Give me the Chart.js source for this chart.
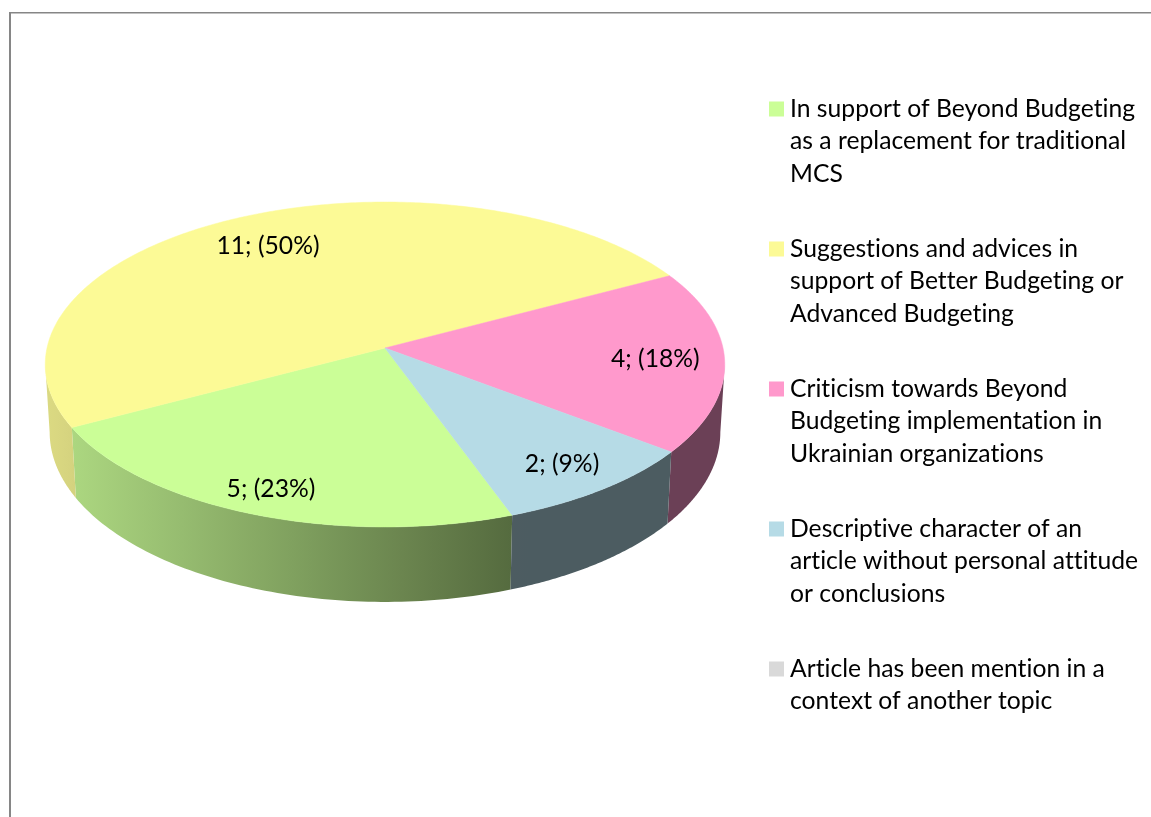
<!DOCTYPE html>
<html>
<head>
<meta charset="utf-8">
<style>html,body{margin:0;padding:0;background:#fff;overflow:hidden}canvas{display:block}</style>
<script src="https://cdn.jsdelivr.net/npm/chart.js@4"></script>
</head>
<body>
<canvas id="c" width="1151" height="817"></canvas>
<script>
const categories = [
  ["In support of Beyond Budgeting", "as a replacement for traditional", "MCS"],
  ["Suggestions and advices in", "support of Better Budgeting or", "Advanced Budgeting"],
  ["Criticism towards Beyond", "Budgeting implementation in", "Ukrainian organizations"],
  ["Descriptive character of an", "article without personal attitude", "or conclusions"],
  ["Article has been mention in a", "context of another topic"]
];
const values = [5, 11, 4, 2, 0];
const colors = ["#CBFE97", "#FCFA96", "#FF99CC", "#B6DBE6", "#D9D9D9"];
const labelRadii = [0.857, 0.78, 0.8, 0.83, 0];
const FONT = "Lato";
const FS = 24.7;

const total = values.reduce((a, b) => a + b, 0);
function rgb(hex, f) {
  const n = parseInt(hex.slice(1), 16);
  return `rgb(${Math.round((n >> 16) * f)},${Math.round(((n >> 8) & 255) * f)},${Math.round((n & 255) * f)})`;
}
function shade(x) { // wall brightness by horizontal position
  const t = Math.min(1, Math.max(0, (x - 46) / 465));
  return 0.87 - 0.45 * t;
}

const pie3d = {
  id: "pie3d",
  afterLayout(chart) {
    const a = { left: 47, top: 10, right: 723, bottom: 686, width: 676, height: 676 };
    Object.assign(chart.chartArea, a);
    const lg = chart.legend;
    lg.left = 732.85; lg.right = 1151; lg.top = 54.15; lg.bottom = 1000; lg.width = 418.15; lg.height = 945.85;
  },
  beforeDraw(chart) {
    const ctx = chart.ctx;
    ctx.letterSpacing = "0.01px";
    ctx.save();
    ctx.fillStyle = "#fff";
    ctx.fillRect(0, 0, chart.width, chart.height);
    ctx.fillStyle = "#868686";
    ctx.fillRect(9, 12, 2, chart.height);
    ctx.fillRect(9, 12, chart.width, 1.5);
    ctx.restore();
  },
  beforeDatasetsDraw(chart) {
    const ctx = chart.ctx;
    const arcs = chart.getDatasetMeta(0).data;
    const first = arcs[0];
    const cx = first.x, cy = first.y, r = first.outerRadius;
    const k = 0.1015, by = 0.4757;
    const P = t => {
      const d = 1 - k * Math.sin(t);
      return [cx + r * Math.cos(t) / d, cy + r * by * Math.sin(t) / d];
    };
    const Q = t => {
      const [x, y] = P(t);
      const Y = y - cy;
      return [cx + (x - cx) * 0.987, y + r * 0.198 + 0.045 * Y];
    };
    const sil0 = Math.asin(k), sil1 = Math.PI - sil0;
    ctx.save();
    // side walls
    arcs.forEach((arc, i) => {
      if (arc.endAngle - arc.startAngle < 1e-6) return;
      for (const off of [0, -2 * Math.PI, 2 * Math.PI]) {
        const s = Math.max(arc.startAngle + off, sil0);
        const e = Math.min(arc.endAngle + off, sil1);
        if (e <= s) continue;
        const n = 80;
        ctx.beginPath();
        for (let j = 0; j <= n; j++) {
          const p = P(s + (e - s) * j / n);
          j ? ctx.lineTo(p[0], p[1]) : ctx.moveTo(p[0], p[1]);
        }
        for (let j = n; j >= 0; j--) {
          const q = Q(s + (e - s) * j / n);
          ctx.lineTo(q[0], q[1]);
        }
        ctx.closePath();
        const x0 = Math.min(P(s)[0], P(e)[0], Q(s)[0], Q(e)[0]);
        const x1 = Math.max(P(s)[0], P(e)[0], Q(s)[0], Q(e)[0]);
        const g = ctx.createLinearGradient(x0, 0, x1, 0);
        for (let j = 0; j <= 8; j++) {
          g.addColorStop(j / 8, rgb(colors[i], shade(x0 + (x1 - x0) * j / 8)));
        }
        ctx.fillStyle = g;
        ctx.fill();
      }
    });
    // top faces
    arcs.forEach((arc, i) => {
      const s = arc.startAngle, e = arc.endAngle;
      if (e - s < 1e-6) return;
      const n = 240;
      ctx.beginPath();
      ctx.moveTo(cx, cy);
      for (let j = 0; j <= n; j++) {
        const p = P(s + (e - s) * j / n);
        ctx.lineTo(p[0], p[1]);
      }
      ctx.closePath();
      ctx.fillStyle = colors[i];
      ctx.strokeStyle = colors[i];
      ctx.lineWidth = 0.5;
      ctx.fill();
      ctx.stroke();
    });
    // data labels
    ctx.fillStyle = "#000";
    ctx.font = `${FS}px ${FONT}`;
    ctx.textAlign = "center";
    ctx.textBaseline = "middle";
    arcs.forEach((arc, i) => {
      if (!values[i]) return;
      const mid = (arc.startAngle + arc.endAngle) / 2;
      const f = labelRadii[i];
      const sx = f * Math.cos(mid), sy = f * Math.sin(mid);
      const d = 1 - k * sy;
      const pct = Math.round(values[i] / total * 100);
      ctx.fillText(`${values[i]}; (${pct}%)`, cx + r * sx / d - 1, cy + r * by * sy / d + 1);
    });
    ctx.restore();
    return false;
  }
};

new Chart(document.getElementById("c"), {
  type: "pie",
  plugins: [pie3d],
  data: {
    labels: categories,
    datasets: [{ data: values, backgroundColor: colors, borderWidth: 0 }]
  },
  options: {
    responsive: false,
    animation: false,
    rotation: 160.1,
    plugins: {
      tooltip: { enabled: false },
      legend: {
        position: "right",
        align: "start",
        labels: {
          boxWidth: 2.3,
          boxHeight: 2.3,
          padding: 42.5,
          color: "#000",
          font: { family: FONT, size: FS, lineHeight: 32.5 / FS },
          generateLabels: () => categories.map((text, i) => ({
            text,
            index: i,
            fillStyle: colors[i],
            strokeStyle: colors[i],
            lineWidth: 12.7,
            lineJoin: "miter",
            hidden: false
          }))
        }
      }
    }
  }
});
</script>
</body>
</html>
